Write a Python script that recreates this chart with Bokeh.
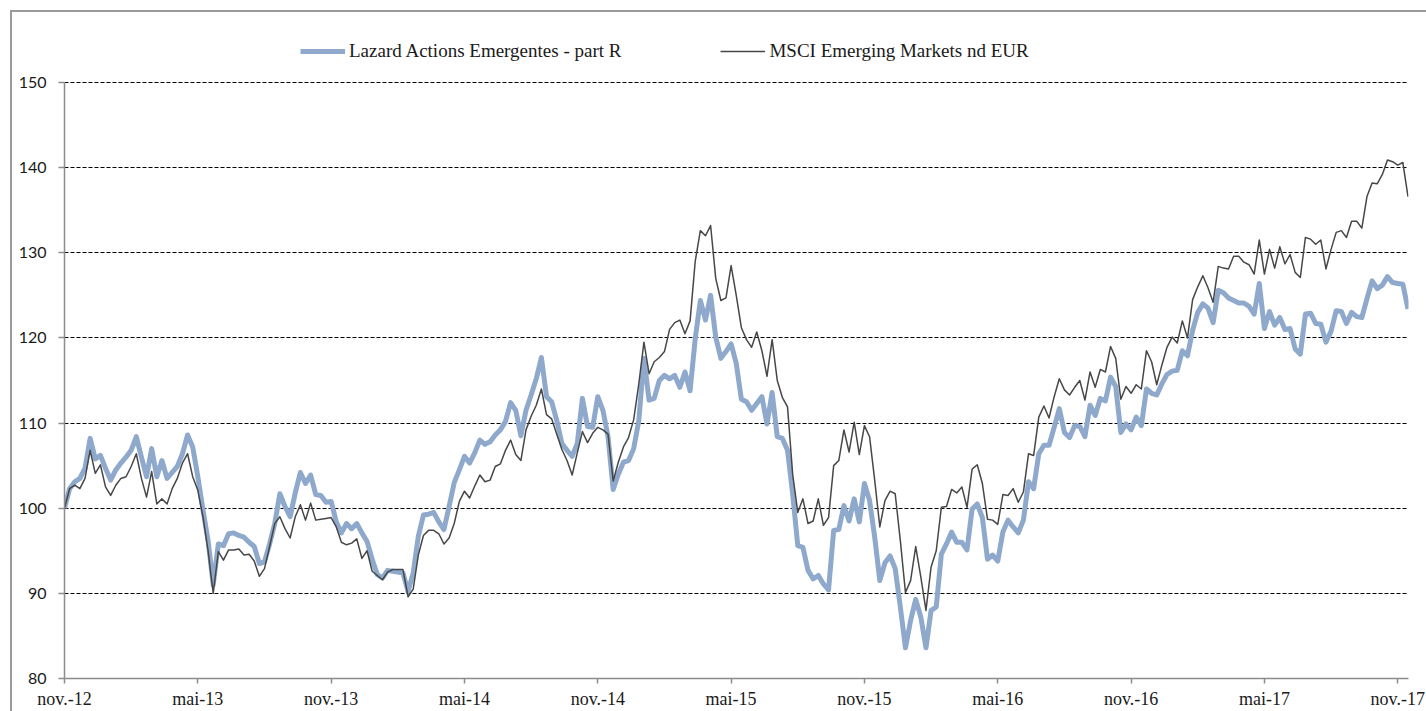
from bokeh.plotting import figure
from bokeh.models import Range1d, FixedTicker, Legend, LegendItem
from bokeh.embed import file_html
from bokeh.resources import INLINE

# weekly observations, week 0 = start of nov. 2012
weeks = list(range(263))

lazard = [100, 102.3, 103.1, 103.5, 104.7, 108.2, 105.8, 106.2, 104.7, 103.3,
          104.5, 105.3, 106.0, 106.8, 108.4, 106, 103.7, 107, 103.7, 105.6,
          103.5, 104.2, 104.9, 106.4, 108.6, 107.2, 103.7, 99.8, 96.2, 91,
          95.8, 95.6, 97, 97.1, 96.8, 96.6, 96, 95.5, 93.5, 93.7,
          95.8, 98.2, 101.7, 100.2, 99, 101.8, 104.2, 102.9, 103.9, 101.6,
          101.5, 100.7, 100.8, 98.4, 97.1, 98.2, 97.6, 98.2, 97.1, 96.1,
          94, 92.2, 91.8, 92.7, 92.6, 92.5, 92.4, 90.2, 92.4, 96.7,
          99.2, 99.3, 99.5, 98.4, 97.5, 100.2, 103, 104.5, 106.1, 105.3,
          106.5, 108, 107.5, 107.8, 108.6, 109.2, 110.2, 112.4, 111.5, 108.5,
          111.5, 113.3, 115.2, 117.7, 113.1, 112.5, 110.3, 107.6, 106.8, 106.1,
          107.6, 112.9, 109.6, 109.5, 113.1, 111.5, 108.4, 102.2, 104, 105.4,
          105.6, 107, 110.3, 117.6, 112.7, 112.9, 115, 115.6, 115.2, 115.6,
          114.2, 116, 113.8, 119.9, 124.4, 122.1, 125, 120.1, 117.6, 118.4,
          119.3, 117, 112.8, 112.5, 111.5, 112.3, 113.1, 109.9, 113.6, 108.4,
          108.2, 106.8, 101.7, 95.6, 95.4, 92.7, 91.7, 92.1, 91.1, 90.4,
          97.4, 97.5, 100.3, 98.5, 101.1, 98.4, 102.9, 100.9, 96.6, 91.5,
          93.6, 94.4, 92.9, 88.4, 83.6, 86.8, 89.3, 87.2, 83.6, 88,
          88.4, 94.6, 95.8, 97.2, 96, 96.0, 95.1, 99.9, 100.5, 98.9,
          94, 94.5, 93.8, 97.2, 98.6, 97.8, 97.1, 98.6, 103.1, 102.3,
          106.4, 107.4, 107.4, 109.5, 111.7, 108.9, 108.3, 109.7, 109.6, 108.4,
          112.1, 110.9, 112.9, 112.6, 115.4, 114.3, 108.9, 109.9, 109.2, 110.7,
          109.7, 114, 113.5, 113.3, 114.6, 115.7, 116.1, 116.2, 118.5, 117.9,
          120.9, 123, 124, 123.5, 121.8, 125.6, 125.3, 124.7, 124.4, 124.1,
          124.1, 123.7, 122.8, 126.4, 121.1, 123.1, 121.5, 122.4, 121, 121.1,
          118.7, 118.1, 122.8, 122.9, 121.7, 121.6, 119.5, 120.8, 123.2, 123.1,
          121.7, 123, 122.5, 122.4, 124.6, 126.7, 125.8, 126.2, 127.2, 126.5,
          126.4, 126.3, 123.4]

msci = [100, 102.3, 102.7, 102.3, 103.5, 106.8, 104.1, 105.1, 102.5, 101.5,
        102.7, 103.5, 103.7, 104.9, 106.4, 103.5, 101.3, 104.3, 100.5, 101.1,
        100.5, 102.3, 103.5, 105.3, 106.4, 103.7, 102.1, 99, 95, 90,
        94.9, 93.9, 95.1, 95.1, 95.2, 94.5, 94.6, 93.8, 92.0, 92.9,
        95.5, 98.2, 99, 97.6, 96.5, 99, 100.4, 98.6, 100.6, 98.6,
        98.7, 98.8, 98.9, 97.8, 96, 95.7, 95.9, 96.4, 94.1, 95,
        92.6, 92.1, 91.6, 92.5, 92.8, 92.8, 92.8, 89.6, 90.5, 94.5,
        96.8, 97.4, 97.4, 97, 95.8, 96.5, 98.2, 100.8, 102, 101.2,
        102.6, 103.9, 103.1, 103.3, 104.9, 105.2, 106.8, 108, 106.3, 105.6,
        109.2, 110.8, 112.1, 114, 111, 110.5, 108.7, 106.9, 105.6, 103.9,
        106.5, 109, 107.7, 108.8, 109.5, 109.2, 108.7, 103.2, 105.4, 107.2,
        108.3, 110.4, 114.6, 119.5, 115.8, 117.2, 117.7, 118.4, 121, 121.8,
        122.1, 120.5, 122, 129, 132.6, 132, 133.2, 127, 124.4, 124.7,
        128.5, 125, 121.2, 119.8, 118.9, 120.7, 118.5, 115.5, 119.8, 115,
        113, 111.9, 104, 99.5, 101.1, 98.2, 98.5, 101.1, 98, 98.9,
        105, 105.6, 109.2, 106.6, 110.1, 106.3, 109.7, 108.4, 103.3, 97.8,
        100.9, 102, 101.7, 96.2, 90.1, 91.5, 95.5, 91.9, 88, 93.1,
        95, 100.1, 100.2, 102.2, 101.8, 102.5, 100.1, 104.6, 105.1, 102.9,
        98.7, 98.6, 98.1, 101.6, 101.5, 102.3, 100.7, 101.9, 106.4, 106.2,
        110.7, 112, 110.6, 113.1, 115.2, 113.9, 113.3, 114.2, 115, 112.7,
        116, 114.2, 116.3, 116, 119, 117.6, 112.8, 114.3, 113.5, 114.5,
        114, 118.5, 117.2, 114.5, 116.8, 118.9, 120.1, 119.4, 122, 120,
        124.5, 126, 127.3, 125.9, 124.2, 128.4, 128.2, 128.1, 129.6, 129.6,
        128.9, 128.6, 127.5, 131.5, 127.5, 130.4, 128.2, 130.7, 128.7, 129.8,
        127.7, 127.1, 131.8, 131.6, 131, 131.5, 128.1, 130.4, 132.4, 132.6,
        131.8, 133.7, 133.7, 132.9, 136.6, 138.2, 138.1, 139.2, 140.9, 140.7,
        140.3, 140.6, 136.6]

tick_weeks = [0, 26, 52, 78, 104, 130, 156, 182, 208, 234, 260]
tick_labels = ["nov.-12", "mai-13", "nov.-13", "mai-14", "nov.-14", "mai-15",
               "nov.-15", "mai-16", "nov.-16", "mai-17", "nov.-17"]
y_ticks = [80, 90, 100, 110, 120, 130, 140, 150]

series_names = ["Lazard Actions Emergentes - part R", "MSCI Emerging Markets nd EUR"]

# the plotting frame reaches up to the legend row; the value axis stops at 150
y_top = 80 + 658 / (596 / 70)

p = figure(width=1426, height=711, output_backend="svg", toolbar_location=None,
           x_range=Range1d(0, 262.1), y_range=Range1d(80, y_top),
           min_border_left=64, min_border_right=18, min_border_top=20,
           min_border_bottom=33)
p.outline_line_color = None
p.background_fill_color = "white"
p.border_fill_alpha = 0
# thin grey chart-area border (left and top edges) drawn behind the canvas
p.styles = {
    "background": ("linear-gradient(#9a9a9a, #9a9a9a) 10px 10px / 2px 100% no-repeat, "
                   "linear-gradient(#9a9a9a, #9a9a9a) 10px 10px / 100% 2px no-repeat, "
                   "#ffffff"),
}

r1 = p.line(weeks, lazard, line_color="#8EA9CC", line_width=5, line_join="round")
r2 = p.line(weeks, msci, line_color="#474747", line_width=1.5, line_join="round")

# axes
p.xaxis.ticker = FixedTicker(ticks=tick_weeks)
p.xaxis.major_label_overrides = {w: l for w, l in zip(tick_weeks, tick_labels)}
p.yaxis.ticker = FixedTicker(ticks=y_ticks)
p.yaxis.bounds = (80, 150)
for ax in (p.xaxis[0], p.yaxis[0]):
    ax.axis_line_color = "#8c8c8c"
    ax.axis_line_width = 1.5
    ax.major_tick_line_color = "#8c8c8c"
    ax.major_tick_line_width = 1.5
    ax.minor_tick_line_color = None
    ax.major_tick_in = 0
    ax.major_label_text_color = "#1a1a1a"
p.xaxis.major_tick_out = 5
p.xaxis.major_label_standoff = 5
p.xaxis.major_label_text_font = "Liberation Serif"
p.xaxis.major_label_text_font_size = "18px"
p.yaxis.major_tick_out = 6
p.yaxis.major_label_standoff = 12
p.yaxis.major_label_text_font = "Lato"
p.yaxis.major_label_text_font_size = "16px"

p.xgrid.visible = False
p.ygrid.ticker = FixedTicker(ticks=y_ticks)
p.ygrid.grid_line_color = "black"
p.ygrid.grid_line_width = 1
p.ygrid.grid_line_dash = "4 2"

legend = Legend(items=[LegendItem(label=series_names[0], renderers=[r1]),
                       LegendItem(label=series_names[1], renderers=[r2])],
                orientation="horizontal", location=(236, 616), padding=0, margin=0,
                spacing=99, glyph_width=45, glyph_height=20, label_standoff=4,
                border_line_color=None, background_fill_alpha=0,
                label_text_font="Liberation Serif", label_text_font_size="19px",
                label_text_color="#1a1a1a")
p.add_layout(legend)

open("out.html", "w").write(file_html(p, INLINE))
